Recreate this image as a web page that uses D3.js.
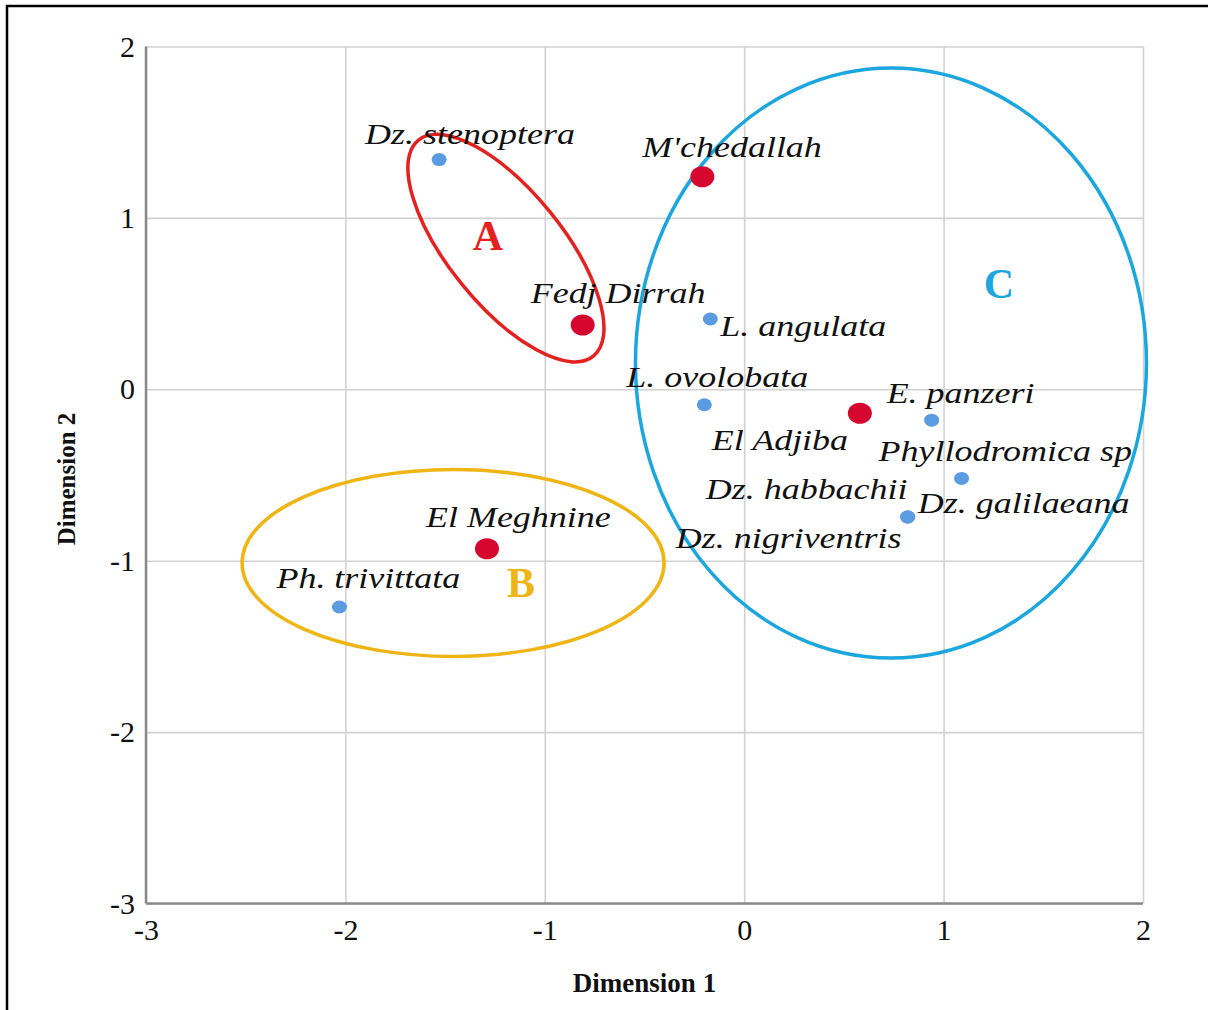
<!DOCTYPE html>
<html>
<head>
<meta charset="utf-8">
<script src="https://cdn.jsdelivr.net/npm/d3@7/dist/d3.min.js"></script>
<style>
  html, body { margin: 0; padding: 0; background: #fff; }
  svg { display: block; }
  text { font-family: "Liberation Serif", "Times New Roman", serif; }
</style>
</head>
<body>
<svg id="chart" width="1208" height="1010"></svg>
<script>
// Correspondence analysis: sampling sites (red) and cockroach species (blue)
const xTicks = [-3, -2, -1, 0, 1, 2];
const yTicks = [-3, -2, -1, 0, 1, 2];

const siteNames = ["M'chedallah", "Fedj Dirrah", "El Adjiba", "El Meghnine"];
const siteDim1  = [-0.21, -0.81, 0.58, -1.29];
const siteDim2  = [1.24, 0.375, -0.14, -0.93];

const speciesNames = ["Dz. stenoptera", "L. angulata", "L. ovolobata", "E. panzeri",
  "Phyllodromica sp", "Dz. habbachii", "Dz. galilaeana", "Dz. nigriventris", "Ph. trivittata"];
const speciesDim1 = [-1.53, -0.17, -0.20, 0.94, 1.09, 0.82, 0.82, 0.82, -2.03];
const speciesDim2 = [1.34, 0.41, -0.09, -0.18, -0.52, -0.745, -0.745, -0.745, -1.27];

const groupLetters = ["A", "B", "C"];
const groupDim1    = [-1.195, -1.46, 0.736];
const groupDim2    = [0.824, -1.013, 0.153];

// label offsets (px) relative to each marker: [dx, dy] of text start / baseline
const siteLabelOffset = [[-60, -20], [-52, -22], [-148, 37], [-61, -22]];
const speciesLabelOffset = [[-74, -16], [10, 17], [-78, -18], [-45, -17], [-83, -17],
  [-202, -18], [10, -4], [-232, 31], [-63, -19]];
// group ellipse geometry (px) and letter placement
const groupShape = [
  { rx: 139, ry: 57, angle: 51, color: "#e3211f", lx: -18, ly: 2 },
  { rx: 211, ry: 93.5, angle: 0, color: "#efb515", lx: 68, ly: 34 },
  { rx: 255.5, ry: 295, angle: 0, color: "#1ba6dd", lx: 108, ly: -65 }
];

(function draw() {
  const svg = d3.select("#chart");
  const W = 1208, H = 1010;
  const pl = 146, pr = 1143, pt = 46.5, pb = 903.5;

  // outer frame
  svg.append("rect").attr("x", 7).attr("y", 6).attr("width", W + 20).attr("height", H + 20)
    .attr("fill", "#fff").attr("stroke", "#000").attr("stroke-width", 2.5);

  const x = d3.scaleLinear().domain([-3, 2]).range([pl, pr]);
  const y = d3.scaleLinear().domain([-3, 2]).range([pb, pt]);
  const fmt = d => String(d);

  // x axis with vertical grid
  const gx = svg.append("g").attr("transform", `translate(0,${pb})`)
    .call(d3.axisBottom(x).tickValues(xTicks).tickFormat(fmt)
      .tickSizeInner(-(pb - pt)).tickSizeOuter(0).tickPadding(15));
  // y axis with horizontal grid
  const gy = svg.append("g").attr("transform", `translate(${pl},0)`)
    .call(d3.axisLeft(y).tickValues(yTicks).tickFormat(fmt)
      .tickSizeInner(-(pr - pl)).tickSizeOuter(0).tickPadding(11));

  [gx, gy].forEach(g => {
    g.selectAll(".tick line").attr("stroke", "#d2d2d2").attr("stroke-width", 1.6);
    g.selectAll(".tick text").attr("fill", "#111").attr("font-size", 30)
      .attr("font-family", "Liberation Serif, serif");
    g.select(".domain").remove();
  });
  // axis lines drawn over grid
  svg.append("line").attr("x1", pl).attr("x2", pl).attr("y1", pt).attr("y2", pb)
    .attr("stroke", "#8a8a8a").attr("stroke-width", 2.5);
  svg.append("line").attr("x1", pl).attr("x2", pr).attr("y1", pb).attr("y2", pb)
    .attr("stroke", "#8a8a8a").attr("stroke-width", 2.5);

  // axis titles
  svg.append("text").attr("x", (pl + pr) / 2).attr("y", 992)
    .attr("text-anchor", "middle").attr("font-weight", "bold").attr("font-size", 27)
    .attr("fill", "#111").text("Dimension 1");
  svg.append("text").attr("transform", "translate(75,479) rotate(-90)")
    .attr("text-anchor", "middle").attr("font-weight", "bold").attr("font-size", 25)
    .attr("fill", "#111").text("Dimension 2");

  // group ellipses
  const groups = groupLetters.map((g, i) => ({ letter: g, d1: groupDim1[i], d2: groupDim2[i], ...groupShape[i] }));
  svg.append("g").selectAll("ellipse").data(groups).join("ellipse")
    .attr("transform", d => `translate(${x(d.d1)},${y(d.d2)}) rotate(${d.angle})`)
    .attr("rx", d => d.rx).attr("ry", d => d.ry)
    .attr("fill", "none").attr("stroke", d => d.color).attr("stroke-width", 3.5);

  // markers
  const species = speciesNames.map((n, i) => ({ name: n, d1: speciesDim1[i], d2: speciesDim2[i], off: speciesLabelOffset[i] }));
  const sites = siteNames.map((n, i) => ({ name: n, d1: siteDim1[i], d2: siteDim2[i], off: siteLabelOffset[i] }));

  svg.append("g").selectAll("ellipse").data(species).join("ellipse")
    .attr("cx", d => x(d.d1)).attr("cy", d => y(d.d2)).attr("rx", 7.5).attr("ry", 6.5)
    .attr("fill", "#5b9be1");
  svg.append("g").selectAll("ellipse").data(sites).join("ellipse")
    .attr("cx", d => x(d.d1)).attr("cy", d => y(d.d2)).attr("rx", 12).attr("ry", 10.5)
    .attr("fill", "#d5072f");

  // point labels (italic, horizontally widened)
  const stretch = 1.22;
  svg.append("g").selectAll("text").data(species.concat(sites)).join("text")
    .attr("transform", d => `translate(${x(d.d1) + d.off[0]},${y(d.d2) + d.off[1]}) scale(${stretch},1)`)
    .attr("font-style", "italic").attr("font-size", 29.5).attr("fill", "#111")
    .text(d => d.name);

  // group letters
  svg.append("g").selectAll("text").data(groups).join("text")
    .attr("x", d => x(d.d1) + d.lx).attr("y", d => y(d.d2) + d.ly)
    .attr("text-anchor", "middle").attr("font-weight", "bold").attr("font-size", 42)
    .attr("fill", d => d.color).text(d => d.letter);
})();
</script>
</body>
</html>
